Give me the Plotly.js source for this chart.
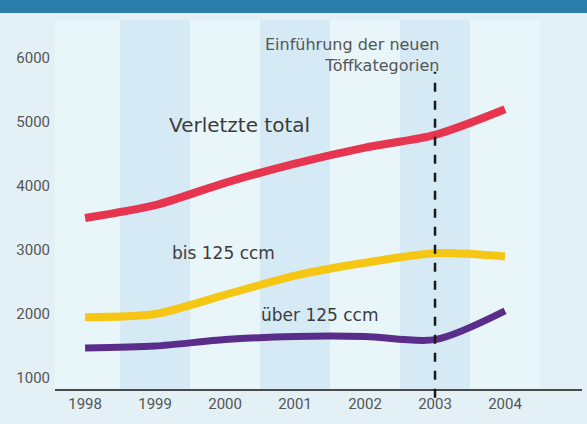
<!DOCTYPE html>
<html>
<head>
<meta charset="utf-8">
<script src="https://cdn.plot.ly/plotly-3.0.1.min.js"></script>
<style>html,body{margin:0;padding:0;background:#e3f1f7;}#chart{width:587px;height:424px;}</style>
</head>
<body>
<div id="chart"></div>
<script>
const years = [1998, 1999, 2000, 2001, 2002, 2003, 2004];
const verletzteTotal = [3500, 3700, 4050, 4350, 4600, 4800, 5200];
const bis125 = [1950, 2000, 2300, 2600, 2800, 2950, 2900];
const ueber125 = [1470, 1500, 1600, 1650, 1650, 1600, 2050];
const yTicks = [1000, 2000, 3000, 4000, 5000, 6000];
const labelTotal = 'Verletzte total';
const labelBis = 'bis 125 ccm';
const labelUeber = 'über 125 ccm';
const labelEinf = 'Einführung der neuen<br>Töffkategorien';
const changeYear = 2003;

const lineStyle = (c, w) => ({color: c, width: w, shape: 'spline', smoothing: 0.8});
const traces = [
  {x: years, y: verletzteTotal, mode: 'lines', line: lineStyle('#e8354f', 8), hoverinfo: 'skip'},
  {x: years, y: bis125, mode: 'lines', line: lineStyle('#f6c614', 8), hoverinfo: 'skip'},
  {x: years, y: ueber125, mode: 'lines', line: lineStyle('#5a2d8a', 7), hoverinfo: 'skip'}
];

const shapes = [];
years.forEach((yr, i) => {
  shapes.push({type: 'rect', xref: 'x', yref: 'paper', x0: yr - 0.5, x1: yr + 0.5, y0: 0, y1: 1,
    fillcolor: i % 2 === 0 ? '#e8f5f9' : '#d6eaf5', line: {width: 0}, layer: 'below'});
});
shapes.push({type: 'rect', xref: 'paper', yref: 'paper', x0: -0.2, x1: 1.1, y0: 1.019, y1: 1.06,
  fillcolor: '#2a7dad', line: {width: 0}});
shapes.push({type: 'line', xref: 'x', yref: 'paper', x0: changeYear, x1: changeYear, y0: -0.024, y1: 0.86,
  line: {color: '#1a1a1a', width: 2.5, dash: 'dash'}});

const annFont = {family: 'DejaVu Sans, sans-serif', color: '#3c3c3c'};
const annotations = [
  {x: 2000.2, y: 4950, xref: 'x', yref: 'y', text: labelTotal, showarrow: false, font: Object.assign({size: 20}, annFont)},
  {x: 1999.98, y: 2954, xref: 'x', yref: 'y', text: labelBis, showarrow: false, font: Object.assign({size: 17}, annFont)},
  {x: 2001.36, y: 1990, xref: 'x', yref: 'y', text: labelUeber, showarrow: false, font: Object.assign({size: 17}, annFont)},
  {x: 2003.08, y: 6040, xref: 'x', yref: 'y', xanchor: 'right', align: 'right', text: labelEinf, showarrow: false,
   font: {family: 'DejaVu Sans, sans-serif', color: '#555', size: 16}}
];

const layout = {
  width: 587, height: 424,
  margin: {l: 55, r: 5, t: 20, b: 35},
  paper_bgcolor: '#e3f1f7', plot_bgcolor: '#e3f1f7',
  showlegend: false,
  xaxis: {range: [1997.57, 2005.1], tickvals: years, ticktext: years.map(String), showgrid: false, zeroline: false,
    showline: true, linecolor: '#4a4a4a', linewidth: 1.5, ticks: '',
    tickfont: {family: 'Liberation Sans Narrow, Roboto, sans-serif', size: 15, color: '#555'}},
  yaxis: {range: [828, 6594], tickvals: yTicks, ticktext: yTicks.map(String), showgrid: false, zeroline: false,
    showline: false, ticks: '', ticklabelstandoff: 4,
    tickfont: {family: 'Liberation Sans Narrow, Roboto, sans-serif', size: 15, color: '#555'}},
  shapes: shapes,
  annotations: annotations
};
Plotly.newPlot('chart', traces, layout, {displayModeBar: false, staticPlot: true});
</script>
</body>
</html>
